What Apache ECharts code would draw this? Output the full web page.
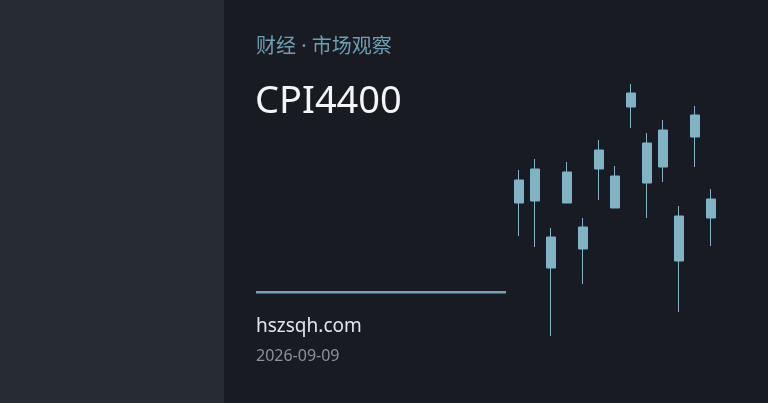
<!DOCTYPE html>
<html>
<head>
<meta charset="utf-8">
<script src="https://cdn.jsdelivr.net/npm/echarts@6/dist/echarts.min.js"></script>
<style>
  html, body { margin: 0; padding: 0; background: #181b22; }
  #chart { width: 768px; height: 403px; }
</style>
</head>
<body>
<div id="chart"></div>
<script>
// 蜡烛图数据 (无坐标轴, 数值按图上比例估读)
const days = ["1", "2", "3", "4", "5", "6", "7", "8", "9", "10", "11", "12", "13"];
const opens  = [147, 149,  82, 147, 101, 181, 142, 243, 167, 183,  89, 213, 132];
const closes = [170, 181, 113, 178, 123, 200, 174, 257, 207, 220, 134, 235, 151];
const lows   = [114, 103,  14, 147,  66, 150, 142, 222, 132, 168,  38, 183, 104];
const highs  = [180, 191, 122, 188, 132, 210, 184, 266, 217, 230, 144, 244, 161];

const subtitle = "财经 · 市场观察";
const headline = "CPI4400";
const site = "hszsqh.com";
const dateText = "2026-09-09";

const candleColor = "#7fb3c6";
const font = "'Noto Sans', 'Noto Sans CJK SC', sans-serif";

let chart = echarts.init(document.getElementById("chart"));
chart.setOption({
  backgroundColor: "#181b22",
  animation: false,
  graphic: [
    // 左侧面板
    {type: "rect", left: 0, top: 0, z: -1, shape: {x: 0, y: 0, width: 224, height: 403}, style: {fill: "#272b34"}},
    // 分隔线
    {type: "rect", left: 256, top: 291, shape: {x: 0, y: 0, width: 250, height: 2.5}, style: {fill: "#6fa5b5"}},
    {type: "text", left: 256, top: 37, style: {text: subtitle, fill: "#6d9fb2", font: "20px " + font}},
    {type: "text", left: 255, top: 83, style: {text: headline, fill: "#f2f4f7", font: "38px " + font}},
    {type: "text", left: 256, top: 317, style: {text: site, fill: "#e2e6ec", font: "19px " + font}},
    {type: "text", left: 256, top: 348, style: {text: dateText, fill: "#8b9099", font: "16px " + font}}
  ],
  grid: {left: 511, width: 208, top: 50, height: 300},
  xAxis: {type: "category", data: days, show: false, boundaryGap: true},
  yAxis: {type: "value", min: 0, max: 300, show: false},
  series: [{
    type: "candlestick",
    barWidth: 10,
    data: days.map((d, i) => [opens[i], closes[i], lows[i], highs[i]]),
    itemStyle: {
      color: candleColor, color0: candleColor,
      borderColor: candleColor, borderColor0: candleColor,
      borderWidth: 1
    }
  }]
});
</script>
</body>
</html>
